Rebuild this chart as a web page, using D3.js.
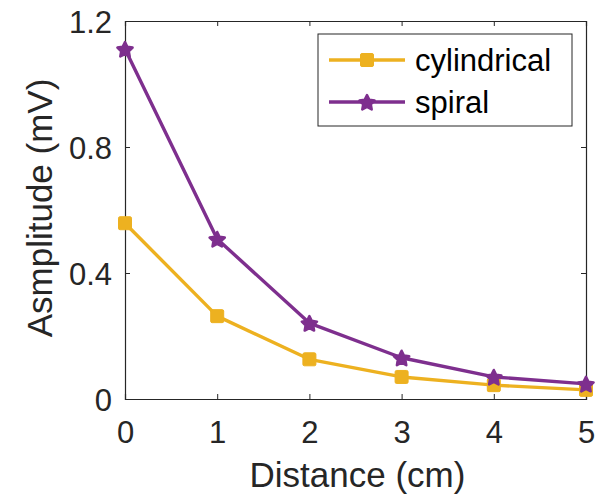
<!DOCTYPE html>
<html><head><meta charset="utf-8">
<script src="https://d3js.org/d3.v7.min.js"></script>
<style>body{margin:0;background:#fff}svg{display:block}</style>
</head><body>
<script>
const distance = [0, 1, 2, 3, 4, 5];
const cylindrical = [0.558, 0.263, 0.126, 0.070, 0.044, 0.029];
const spiral = [1.111, 0.508, 0.241, 0.131, 0.070, 0.048];
const xTicks = [0, 1, 2, 3, 4, 5];
const yTicks = [0, 0.4, 0.8, 1.2];
const seriesNames = ["cylindrical", "spiral"];

const W = 598, H = 497;
const m = {l: 125, r: 12, t: 21, b: 98};
const iw = W - m.l - m.r, ih = H - m.t - m.b;
const font = "'Liberation Sans', Arial, Helvetica, sans-serif";
const ink = "#262626";
const colors = ["#EDB120", "#7E2F8E"];

const svg = d3.select("body").append("svg").attr("width", W).attr("height", H);
const g = svg.append("g").attr("transform", `translate(${m.l},${m.t})`);
const x = d3.scaleLinear().domain([0, 5]).range([0, iw]);
const y = d3.scaleLinear().domain([0, 1.2]).range([ih, 0]);

// axes
const fmtY = d => d === 0 ? "0" : d3.format(".1f")(d);
const ax = g.append("g").attr("transform", `translate(0,${ih})`)
  .call(d3.axisBottom(x).tickValues(xTicks).tickSize(-5).tickPadding(22).tickFormat(d3.format("d")));
const ay = g.append("g")
  .call(d3.axisLeft(y).tickValues(yTicks).tickSize(-5).tickPadding(13).tickFormat(fmtY));
const axT = g.append("g").call(d3.axisTop(x).tickValues(xTicks).tickSize(-5).tickFormat(""));
const ayR = g.append("g").attr("transform", `translate(${iw},0)`).call(d3.axisRight(y).tickValues(yTicks).tickSize(-5).tickFormat(""));
[ax, ay, axT, ayR].forEach(a => {
  a.select(".domain").attr("stroke", ink).attr("stroke-width", 1.2);
  a.selectAll(".tick line").attr("stroke", ink).attr("stroke-width", 1);
  a.selectAll("text").attr("fill", ink).style("font-family", font).style("font-size", "31px");
});
ax.selectAll("text").attr("dy", "0.71em");
ay.selectAll("text").attr("dy", "0.36em");

// axis labels
svg.append("text").attr("x", m.l + iw / 2 + 2).attr("y", 487).attr("text-anchor", "middle")
  .attr("fill", ink).style("font-family", font).style("font-size", "35px").text("Distance (cm)");
svg.append("text").attr("transform", `translate(52,${m.t + ih / 2 - 2}) rotate(-90)`).attr("text-anchor", "middle")
  .attr("fill", ink).style("font-family", font).style("font-size", "35px").text("Asmplitude (mV)");

// markers
function pentagram(r) {
  const pts = [];
  for (let i = 0; i < 10; i++) {
    const a = -Math.PI / 2 + i * Math.PI / 5;
    const rr = i % 2 === 0 ? r : r * 0.5;
    pts.push([rr * Math.cos(a), rr * Math.sin(a)]);
  }
  return "M" + pts.map(p => p.join(",")).join("L") + "Z";
}
function drawMarker(sel, k) {
  if (k === 0) {
    sel.append("rect").attr("x", -6.5).attr("y", -6.5).attr("width", 13).attr("height", 13)
      .attr("rx", 1.5).attr("fill", colors[0]).attr("stroke", colors[0]).attr("stroke-width", 1);
  } else {
    sel.append("path").attr("d", pentagram(8)).attr("transform", "translate(0,1)").attr("fill", colors[1])
      .attr("stroke", colors[1]).attr("stroke-width", 2.5).attr("stroke-linejoin", "round");
  }
}

const data = [cylindrical, spiral];
const line = d3.line().x((d, i) => x(distance[i])).y(d => y(d));
data.forEach((vals, k) => {
  g.append("path").datum(vals).attr("d", line).attr("fill", "none")
    .attr("stroke", colors[k]).attr("stroke-width", 3.4).attr("stroke-linejoin", "round");
});
data.forEach((vals, k) => {
  vals.forEach((v, i) => {
    const mk = g.append("g").attr("transform", `translate(${x(distance[i])},${y(v)})`);
    drawMarker(mk, k);
  });
});

// legend
const lg = svg.append("g").attr("transform", "translate(318,34)");
lg.append("rect").attr("x", 0).attr("y", 0).attr("width", 254).attr("height", 92)
  .attr("fill", "#fff").attr("stroke", ink).attr("stroke-width", 1);
seriesNames.forEach((name, k) => {
  const ry = 26 + k * 42;
  lg.append("line").attr("x1", 11).attr("x2", 87).attr("y1", ry).attr("y2", ry)
    .attr("stroke", colors[k]).attr("stroke-width", 3.4);
  const mk = lg.append("g").attr("transform", `translate(49,${ry})`);
  drawMarker(mk, k);
  lg.append("text").attr("x", 97).attr("y", ry).attr("dy", "0.36em")
    .attr("fill", "#000").style("font-family", font).style("font-size", "31px").text(name);
});
</script>
</body></html>
